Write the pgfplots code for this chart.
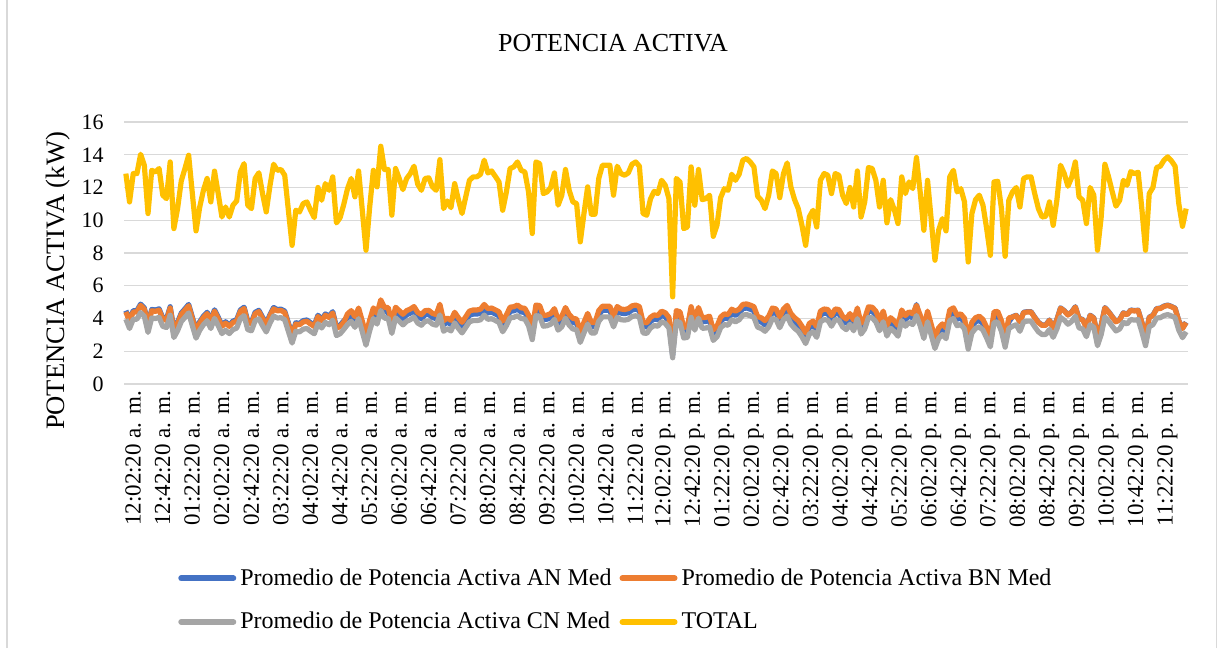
\documentclass[border=0pt]{standalone}
\usepackage{pgfplots}
\pgfplotsset{compat=1.18}
\usepackage{pgfplotstable}
\usepackage{fontspec}
\setmainfont{Liberation Serif}
\definecolor{cA}{HTML}{4472C4}
\definecolor{cB}{HTML}{ED7D31}
\definecolor{cC}{HTML}{A5A5A5}
\definecolor{cT}{HTML}{FFC000}
\definecolor{gridc}{HTML}{D9D9D9}
\pgfplotstableread{
i T A B C
0 12.85 4.48 4.40 3.96
1 11.12 3.91 3.83 3.39
2 12.85 4.48 4.40 3.96
3 12.85 4.48 4.40 3.96
4 14.03 4.88 4.80 4.36
5 13.36 4.65 4.57 4.13
6 10.41 3.67 3.59 3.15
7 13.05 4.55 4.47 4.03
8 12.95 4.52 4.44 4.00
9 13.16 4.59 4.51 4.07
10 11.53 4.04 3.96 3.52
11 11.32 3.97 3.89 3.45
12 13.56 4.72 4.64 4.20
13 9.49 3.36 3.28 2.84
14 10.71 3.77 3.69 3.25
15 12.40 4.33 4.25 3.81
16 13.16 4.59 4.51 4.07
17 13.97 4.86 4.78 4.34
18 11.63 4.08 4.00 3.56
19 9.35 3.32 3.24 2.80
20 10.81 3.80 3.72 3.28
21 11.83 4.14 4.06 3.62
22 12.55 4.38 4.30 3.86
23 11.12 3.91 3.83 3.39
24 13.00 4.53 4.45 4.01
25 11.63 4.08 4.00 3.56
26 10.20 3.60 3.52 3.08
27 10.81 3.80 3.72 3.28
28 10.20 3.60 3.52 3.08
29 10.92 3.84 3.76 3.32
30 11.18 3.93 3.85 3.41
31 12.95 4.52 4.44 4.00
32 13.46 4.69 4.61 4.17
33 10.92 3.84 3.76 3.32
34 10.71 3.77 3.69 3.25
35 12.55 4.38 4.30 3.86
36 12.90 4.50 4.42 3.98
37 11.63 4.08 4.00 3.56
38 10.51 3.70 3.62 3.18
39 12.10 4.23 4.15 3.71
40 13.42 4.67 4.59 4.15
41 13.05 4.55 4.47 4.03
42 13.10 4.57 4.49 4.05
43 12.75 4.45 4.37 3.93
44 10.60 3.73 3.65 3.21
45 8.47 3.02 2.94 2.50
46 10.61 3.74 3.66 3.22
47 10.51 3.70 3.62 3.18
48 11.02 3.87 3.79 3.35
49 11.12 3.91 3.83 3.39
50 10.61 3.74 3.66 3.22
51 10.16 3.59 3.51 3.07
52 12.00 4.20 4.12 3.68
53 11.22 3.94 3.86 3.42
54 12.24 4.28 4.20 3.76
55 11.83 4.14 4.06 3.62
56 12.65 4.42 4.34 3.90
57 9.84 3.48 3.40 2.96
58 10.16 3.59 3.51 3.07
59 10.98 3.86 3.78 3.34
60 11.93 4.03 4.28 3.63
61 12.55 4.23 4.48 3.83
62 11.43 3.86 4.11 3.46
63 13.01 4.39 4.64 3.99
64 10.61 3.59 3.84 3.19
65 8.17 2.77 3.02 2.37
66 10.81 3.65 3.90 3.25
67 13.05 4.40 4.65 4.00
68 12.04 4.06 4.31 3.66
69 14.52 4.89 5.14 4.49
70 13.10 4.42 4.67 4.02
71 13.10 4.42 4.67 4.02
72 10.31 3.49 3.74 3.09
73 13.16 4.44 4.69 4.04
74 12.55 4.23 4.48 3.83
75 11.87 4.01 4.26 3.61
76 12.55 4.23 4.48 3.83
77 12.85 4.33 4.58 3.93
78 13.30 4.48 4.73 4.08
79 12.20 4.12 4.37 3.72
80 11.83 3.99 4.24 3.59
81 12.55 4.23 4.48 3.83
82 12.59 4.25 4.50 3.85
83 12.04 4.06 4.31 3.66
84 11.83 3.99 4.24 3.59
85 13.70 4.62 4.87 4.22
86 10.71 3.62 3.87 3.22
87 11.18 3.78 4.03 3.38
88 10.77 3.64 3.89 3.24
89 12.24 4.13 4.38 3.73
90 11.26 3.80 4.05 3.40
91 10.41 3.52 3.77 3.12
92 11.43 3.86 4.11 3.46
93 12.44 4.20 4.45 3.80
94 12.65 4.27 4.52 3.87
95 12.65 4.27 4.52 3.87
96 12.81 4.32 4.57 3.92
97 13.67 4.61 4.86 4.21
98 12.89 4.35 4.60 3.95
99 13.01 4.39 4.64 3.99
100 12.68 4.28 4.53 3.88
101 12.34 4.16 4.41 3.76
102 10.61 3.59 3.84 3.19
103 11.73 3.96 4.21 3.56
104 13.16 4.44 4.69 4.04
105 13.26 4.47 4.72 4.07
106 13.56 4.57 4.82 4.17
107 13.05 4.40 4.65 4.00
108 12.95 4.37 4.62 3.97
109 11.73 3.96 4.21 3.56
110 9.19 3.11 3.36 2.71
111 13.56 4.57 4.82 4.17
112 13.46 4.54 4.79 4.14
113 11.63 3.93 4.18 3.53
114 11.73 3.96 4.21 3.56
115 12.00 4.05 4.30 3.65
116 12.89 4.35 4.60 3.95
117 10.92 3.69 3.94 3.29
118 11.53 3.89 4.14 3.49
119 13.10 4.42 4.67 4.02
120 11.83 3.99 4.24 3.59
121 11.12 3.76 4.01 3.36
122 11.02 3.72 3.97 3.32
123 8.68 2.94 3.19 2.54
124 10.41 3.52 3.77 3.12
125 12.04 4.06 4.31 3.66
126 10.37 3.51 3.76 3.11
127 10.37 3.51 3.76 3.11
128 12.55 4.23 4.48 3.83
129 13.36 4.50 4.75 4.10
130 13.36 4.50 4.75 4.10
131 13.36 4.50 4.75 4.10
132 11.53 3.89 4.14 3.49
133 13.30 4.48 4.73 4.08
134 12.85 4.33 4.58 3.93
135 12.75 4.30 4.55 3.90
136 12.89 4.35 4.60 3.95
137 13.42 4.52 4.77 4.12
138 13.56 4.57 4.82 4.17
139 13.30 4.48 4.73 4.08
140 10.41 3.52 3.77 3.12
141 10.31 3.49 3.74 3.09
142 11.30 3.82 4.07 3.42
143 11.77 3.97 4.22 3.57
144 11.63 3.93 4.18 3.53
145 12.44 4.20 4.45 3.80
146 12.14 4.10 4.35 3.70
147 11.32 3.82 4.07 3.42
148 5.32 1.77 1.95 1.60
149 12.55 4.23 4.48 3.83
150 12.34 4.16 4.41 3.76
151 9.49 3.21 3.46 2.81
152 9.59 3.25 3.50 2.85
153 13.26 4.47 4.72 4.07
154 10.92 3.69 3.94 3.29
155 13.10 4.42 4.67 4.02
156 11.26 3.80 4.05 3.40
157 11.32 3.82 4.07 3.42
158 11.53 3.89 4.14 3.49
159 9.02 3.06 3.31 2.66
160 9.69 3.28 3.53 2.88
161 11.38 3.84 4.09 3.44
162 11.93 4.03 4.28 3.63
163 11.83 3.99 4.24 3.59
164 12.81 4.32 4.57 3.92
165 12.44 4.20 4.45 3.80
166 12.81 4.32 4.57 3.92
167 13.67 4.61 4.86 4.21
168 13.77 4.64 4.89 4.24
169 13.56 4.57 4.82 4.17
170 13.26 4.47 4.72 4.07
171 11.47 3.87 4.12 3.47
172 11.22 3.79 4.04 3.39
173 10.71 3.62 3.87 3.22
174 11.53 3.89 4.14 3.49
175 13.01 4.39 4.64 3.99
176 12.85 4.33 4.58 3.93
177 11.38 3.84 4.09 3.44
178 12.85 4.33 4.58 3.93
179 13.50 4.55 4.80 4.15
180 12.04 4.06 4.31 3.66
181 11.26 3.80 4.05 3.40
182 10.71 3.62 3.87 3.22
183 9.69 3.28 3.53 2.88
184 8.47 2.87 3.12 2.47
185 10.20 3.45 3.70 3.05
186 10.61 3.59 3.84 3.19
187 9.59 3.25 3.50 2.85
188 12.44 4.20 4.45 3.80
189 12.85 4.33 4.58 3.93
190 12.75 4.30 4.55 3.90
191 11.63 3.93 4.18 3.53
192 12.85 4.33 4.58 3.93
193 12.75 4.30 4.55 3.90
194 11.53 3.89 4.14 3.49
195 11.02 3.72 3.97 3.32
196 12.00 4.05 4.30 3.65
197 10.81 3.65 3.90 3.25
198 13.01 4.39 4.64 3.99
199 10.20 3.45 3.70 3.05
200 11.12 3.76 4.01 3.36
201 13.22 4.46 4.71 4.06
202 13.16 4.44 4.69 4.04
203 12.44 4.20 4.45 3.80
204 10.81 3.65 3.90 3.25
205 12.44 4.20 4.45 3.80
206 9.84 3.33 3.58 2.93
207 11.26 3.80 4.05 3.40
208 10.65 3.60 3.85 3.20
209 9.80 3.32 3.57 2.92
210 12.65 4.27 4.52 3.87
211 11.63 3.93 4.18 3.53
212 12.34 4.16 4.41 3.76
213 11.93 4.03 4.28 3.63
214 13.83 4.85 4.80 4.18
215 11.73 3.96 4.21 3.56
216 9.39 3.18 3.43 2.78
217 12.44 4.20 4.45 3.80
218 10.00 3.38 3.63 2.98
219 7.56 2.57 2.82 2.17
220 9.39 3.18 3.43 2.78
221 10.10 3.42 3.67 3.02
222 9.35 3.17 3.42 2.77
223 12.65 4.27 4.52 3.87
224 13.05 4.40 4.65 4.00
225 11.73 3.96 4.21 3.56
226 11.93 4.03 4.28 3.63
227 11.12 3.76 4.01 3.36
228 7.45 2.53 2.78 2.13
229 10.41 3.52 3.77 3.12
230 11.26 3.80 4.05 3.40
231 11.53 3.89 4.14 3.49
232 10.92 3.69 3.94 3.29
233 9.49 3.21 3.46 2.81
234 7.86 2.67 2.92 2.27
235 12.34 4.16 4.41 3.76
236 12.38 4.18 4.43 3.78
237 10.71 3.62 3.87 3.22
238 7.80 2.65 2.90 2.25
239 11.22 3.79 4.04 3.39
240 11.73 4.11 4.09 3.53
241 12.00 4.20 4.18 3.62
242 10.81 3.80 3.78 3.22
243 12.55 4.38 4.36 3.80
244 12.65 4.42 4.40 3.84
245 12.65 4.42 4.40 3.84
246 11.63 4.08 4.06 3.50
247 10.71 3.77 3.75 3.19
248 10.20 3.60 3.58 3.02
249 10.24 3.61 3.59 3.03
250 11.12 3.91 3.89 3.33
251 9.69 3.43 3.41 2.85
252 11.22 3.94 3.92 3.36
253 13.36 4.65 4.63 4.07
254 12.85 4.48 4.46 3.90
255 12.08 4.23 4.21 3.65
256 12.61 4.40 4.38 3.82
257 13.56 4.72 4.70 4.14
258 11.43 4.01 3.99 3.43
259 11.22 3.94 3.92 3.36
260 9.80 3.47 3.45 2.89
261 12.00 4.20 4.18 3.62
262 11.53 4.04 4.02 3.46
263 8.17 2.92 2.90 2.34
264 10.20 3.60 3.58 3.02
265 13.42 4.67 4.65 4.09
266 12.65 4.42 4.40 3.84
267 11.73 4.11 4.09 3.53
268 10.86 3.82 3.80 3.24
269 11.22 3.94 3.92 3.36
270 12.44 4.35 4.33 3.77
271 12.14 4.25 4.23 3.67
272 12.97 4.52 4.50 3.94
273 12.85 4.48 4.46 3.90
274 12.93 4.51 4.49 3.93
275 10.71 3.77 3.75 3.19
276 8.17 2.92 2.90 2.34
277 11.63 4.08 4.06 3.50
278 12.00 4.20 4.18 3.62
279 13.22 4.61 4.59 4.03
280 13.30 4.63 4.61 4.05
281 13.67 4.76 4.74 4.18
282 13.87 4.82 4.80 4.24
283 13.63 4.74 4.72 4.16
284 13.30 4.63 4.61 4.05
285 11.02 3.87 3.85 3.29
286 9.63 3.41 3.39 2.83
287 10.71 3.77 3.75 3.19
}\datatable
\begin{document}
\begin{tikzpicture}
\path[use as bounding box] (-62pt,-132pt) rectangle (547pt,192pt);
\draw[gridc, line width=0.75pt] (-58.5pt,-132pt) -- (-58.5pt,192pt);
\draw[gridc, line width=0.75pt] (546.3pt,-132pt) -- (546.3pt,192pt);
\begin{axis}[
  at={(0pt,0pt)}, anchor=south west,
  scale only axis, width=532pt, height=131pt,
  xmin=-0.5, xmax=287.5, ymin=0, ymax=16,
  ytick={0,2,...,16},
  xtick={0,8,...,280},
  xticklabels={12:02:20 a. m.,12:42:20 a. m.,01:22:20 a. m.,02:02:20 a. m.,02:42:20 a. m.,03:22:20 a. m.,04:02:20 a. m.,04:42:20 a. m.,05:22:20 a. m.,06:02:20 a. m.,06:42:20 a. m.,07:22:20 a. m.,08:02:20 a. m.,08:42:20 a. m.,09:22:20 a. m.,10:02:20 a. m.,10:42:20 a. m.,11:22:20 a. m.,12:02:20 p. m.,12:42:20 p. m.,01:22:20 p. m.,02:02:20 p. m.,02:42:20 p. m.,03:22:20 p. m.,04:02:20 p. m.,04:42:20 p. m.,05:22:20 p. m.,06:02:20 p. m.,06:42:20 p. m.,07:22:20 p. m.,08:02:20 p. m.,08:42:20 p. m.,09:22:20 p. m.,10:02:20 p. m.,10:42:20 p. m.,11:22:20 p. m.},
  xticklabel style={rotate=90, anchor=east, font=\fontsize{11.5}{13}\selectfont, yshift=-3.6pt},
  yticklabel style={font=\fontsize{11}{13}\selectfont, xshift=-6.6pt},
  /pgf/number format/assume math mode=true,
  major tick length=0pt,
  ymajorgrids, grid style={gridc, line width=0.65pt},
  axis line style={draw=none},
  clip=false,
  legend columns=2,
  legend cell align=left,
  legend style={draw=none, fill=none, font=\fontsize{12}{14}\selectfont,
    at={(0.045,-0.672)}, anchor=north west, row sep=8pt,
    /tikz/every even column/.append style={column sep=2pt}},
  legend image code/.code={\draw[#1, line width=3pt, line cap=round] (0pt,0pt) -- (26pt,0pt);},
  every axis plot/.append style={line width=2.6pt, line join=round},
]
\addplot[cA, no markers] table[x=i, y=A] {\datatable};
\addlegendentry{Promedio de Potencia Activa AN Med}
\addplot[cB, no markers] table[x=i, y=B] {\datatable};
\addlegendentry{Promedio de Potencia Activa BN Med}
\addplot[cC, no markers] table[x=i, y=C] {\datatable};
\addlegendentry{Promedio de Potencia Activa CN Med}
\addplot[cT, no markers] table[x=i, y=T] {\datatable};
\addlegendentry{TOTAL}
\end{axis}
\node[font=\fontsize{13}{15}\selectfont] at (244.5pt,170.5pt) {POTENCIA ACTIVA};
\node[font=\fontsize{13.3}{15}\selectfont, rotate=90] at (-33pt,51.5pt) {POTENCIA ACTIVA (kW)};
\end{tikzpicture}
\end{document}
